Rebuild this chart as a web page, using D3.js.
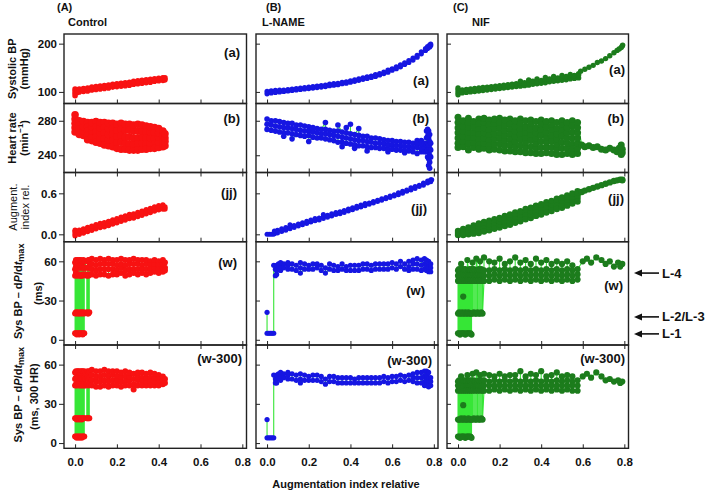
<!DOCTYPE html>
<html>
<head>
<meta charset="utf-8">
<script src="https://cdn.jsdelivr.net/npm/d3@7"></script>
<style>
  body { margin: 0; background: #fff; }
  svg { display: block; font-family: "Liberation Sans", Arial, sans-serif; }
</style>
</head>
<body>
<div id="chart"></div>
<script>
// Each entry: [augmentation index rel., value, value, ...] in recording order

// --- Control ---
const ctrlSbp = [
  [0, 92, 97, 102, 106], [0.01, 99, 104], [0.02, 100, 106], [0.04, 101, 107], [0.06, 102, 108],
  [0.08, 104, 110], [0.10, 105, 111], [0.12, 106, 112], [0.14, 107, 113], [0.16, 108, 114],
  [0.18, 110, 116], [0.20, 111, 117], [0.22, 112, 118], [0.24, 113, 119], [0.26, 114, 120],
  [0.28, 116, 122], [0.30, 117, 123], [0.32, 118, 124], [0.34, 119, 125], [0.36, 120, 126],
  [0.38, 122, 127], [0.40, 123, 128], [0.42, 124, 129], [0.43, 125, 129]
];
const ctrlHr = [
  [0, 287, 282, 277, 272, 267], [0.01, 268, 273, 279], [0.02, 280, 275, 270, 264],
  [0.04, 263, 268, 273, 279], [0.06, 278, 273, 268, 263, 258], [0.08, 257, 262, 268, 273, 278],
  [0.10, 279, 273, 267, 261, 255], [0.12, 254, 260, 266, 272, 278], [0.14, 278, 272, 266, 259, 252],
  [0.16, 251, 258, 264, 271, 277], [0.18, 277, 271, 264, 257, 250], [0.20, 248, 255, 262, 269, 276],
  [0.22, 277, 270, 263, 255, 247], [0.24, 247, 254, 261, 269, 276], [0.26, 276, 269, 261, 253, 246],
  [0.28, 246, 253, 260, 268, 275], [0.30, 276, 268, 260, 253, 246], [0.32, 247, 254, 261, 268, 275],
  [0.34, 274, 267, 260, 253, 247], [0.36, 248, 254, 260, 267, 273], [0.38, 272, 266, 259, 253, 248],
  [0.40, 249, 255, 261, 266, 271], [0.42, 268, 262, 256, 250], [0.43, 251, 256, 260, 265]
];
const ctrlAi = [
  [0, -0.02, 0.01, 0.04, 0.06], [0.02, 0.00, 0.03, 0.06], [0.04, 0.02, 0.05, 0.08],
  [0.06, 0.04, 0.07, 0.10], [0.08, 0.06, 0.09, 0.12], [0.10, 0.08, 0.11, 0.14],
  [0.12, 0.10, 0.13, 0.16], [0.14, 0.11, 0.14, 0.17], [0.16, 0.13, 0.16, 0.19],
  [0.18, 0.15, 0.18, 0.21], [0.20, 0.17, 0.20, 0.23], [0.22, 0.19, 0.22, 0.25],
  [0.24, 0.21, 0.24, 0.27], [0.26, 0.23, 0.26, 0.29], [0.28, 0.24, 0.27, 0.30],
  [0.30, 0.26, 0.29, 0.32], [0.32, 0.28, 0.31, 0.34], [0.34, 0.30, 0.33, 0.36],
  [0.36, 0.32, 0.35, 0.38], [0.38, 0.34, 0.37, 0.40], [0.40, 0.36, 0.39, 0.42],
  [0.42, 0.37, 0.40, 0.43], [0.43, 0.37, 0.40]
];
const ctrlW = [
  [0.000, 59, 54, 49, 20, 5], [0.004, 5, 21, 51, 56, 61], [0.008, 60, 55, 50, 20, 4],
  [0.012, 5, 21, 49, 56, 61], [0.016, 60, 55, 50, 20, 5], [0.020, 4, 20, 50, 56, 61],
  [0.024, 60, 55, 49, 21, 5], [0.028, 5, 20, 49, 56, 61], [0.032, 60, 55, 50, 21, 5],
  [0.036, 4, 20, 49, 56, 60], [0.040, 61, 55, 50, 21, 5], [0.044, 5, 20, 50, 55, 60],
  [0.050, 60, 55, 50], [0.056, 49, 21], [0.060, 20, 50, 55, 60], [0.064, 61, 55, 49, 20],
  [0.068, 21, 50, 56, 61],
  [0.08, 62, 58, 54, 50], [0.10, 49, 53, 57, 61], [0.12, 62, 58, 54, 50], [0.14, 50, 54, 58, 61],
  [0.16, 62, 58, 54, 49], [0.18, 50, 54, 58, 61], [0.20, 61, 57, 53, 50], [0.22, 51, 55, 58, 62],
  [0.24, 61, 57, 53, 49], [0.26, 50, 54, 58, 61], [0.28, 62, 58, 54, 51], [0.30, 50, 54, 58, 61],
  [0.32, 61, 57, 54, 51], [0.34, 50, 54, 58, 61], [0.36, 60, 57, 54, 51], [0.38, 52, 55, 58, 61],
  [0.40, 60, 57, 54, 51], [0.42, 52, 55, 58, 61], [0.43, 59, 55, 53]
];
const ctrlW300 = [
  [0.000, 54, 49, 44, 19, 5], [0.004, 5, 19, 45, 50, 55], [0.008, 54, 49, 44, 18, 4],
  [0.012, 5, 19, 45, 50, 55], [0.016, 55, 50, 45, 19, 5], [0.020, 4, 18, 44, 49, 54],
  [0.024, 55, 50, 45, 19, 5], [0.028, 5, 19, 44, 49, 54], [0.032, 55, 50, 45, 18, 4],
  [0.036, 5, 19, 44, 49, 55], [0.040, 54, 49, 45, 19, 5], [0.044, 5, 19, 44, 50, 55],
  [0.050, 54, 49, 44], [0.056, 45, 19], [0.060, 19, 45, 50, 55], [0.064, 54, 49, 44, 19],
  [0.068, 19, 45, 50, 55],
  [0.08, 56, 52, 48, 44], [0.10, 43, 47, 51, 55], [0.12, 55, 51, 47, 43], [0.14, 44, 48, 52, 56],
  [0.16, 55, 51, 47, 43], [0.18, 44, 48, 52, 55], [0.20, 55, 51, 47, 44], [0.22, 43, 47, 51, 54],
  [0.24, 55, 51, 47, 44], [0.26, 44, 48, 51, 54], [0.28, 53, 49, 45, 41], [0.30, 44, 48, 51, 54],
  [0.32, 54, 50, 47, 44], [0.34, 44, 47, 50, 53], [0.36, 54, 50, 47, 44], [0.38, 44, 47, 50, 53],
  [0.40, 52, 49, 46, 44], [0.42, 45, 48, 51], [0.43, 49, 46]
];

// --- L-NAME ---
const lnameSbp = [
  [0.00, 96, 101], [0.02, 98, 102], [0.04, 99, 103], [0.06, 100, 104], [0.08, 101, 104],
  [0.10, 102, 105], [0.12, 103, 106], [0.14, 104, 107], [0.16, 105, 108], [0.18, 106, 109],
  [0.20, 107, 110], [0.22, 108, 111], [0.24, 109, 112], [0.26, 110, 113], [0.28, 111, 114],
  [0.30, 113, 116], [0.32, 114, 117], [0.34, 115, 118], [0.36, 117, 120], [0.38, 118, 121],
  [0.40, 120, 123], [0.42, 122, 125], [0.44, 124, 127], [0.46, 126, 129], [0.48, 128, 131],
  [0.50, 130, 133], [0.52, 132, 136], [0.54, 135, 138], [0.56, 138, 141], [0.58, 141, 145],
  [0.60, 145, 148], [0.62, 148, 152], [0.64, 152, 156], [0.66, 157, 160], [0.68, 161, 165],
  [0.70, 166, 170], [0.72, 172, 176], [0.74, 179, 183], [0.76, 186, 190], [0.77, 190, 194],
  [0.78, 193, 197], [0.785, 196, 199]
];
const lnameHr = [
  [0.00, 282, 276, 270], [0.02, 269, 275, 280], [0.04, 280, 274, 268], [0.06, 267, 273, 279],
  [0.08, 278, 272, 266, 262], [0.10, 266, 272, 277], [0.12, 277, 271, 265, 259], [0.14, 264, 270, 275],
  [0.16, 275, 269, 263], [0.18, 262, 268, 274], [0.20, 273, 268, 263, 256], [0.22, 261, 267, 272],
  [0.24, 271, 266, 260], [0.26, 260, 265, 270], [0.28, 278, 270, 265, 259], [0.30, 258, 264, 269],
  [0.32, 268, 263, 257], [0.34, 255, 262, 268, 275], [0.36, 267, 261, 255, 250], [0.38, 254, 260, 266, 272],
  [0.40, 276, 265, 259, 253], [0.42, 248, 252, 258, 264], [0.44, 271, 263, 257, 251], [0.46, 251, 257, 262],
  [0.48, 262, 256, 250, 245], [0.50, 249, 255, 260], [0.52, 260, 254, 249], [0.54, 248, 254, 259],
  [0.56, 258, 253, 248], [0.58, 244, 247, 252, 257], [0.60, 257, 252, 247], [0.62, 246, 251, 256],
  [0.64, 256, 251, 246], [0.66, 243, 245, 250, 255], [0.68, 255, 250, 245], [0.70, 244, 249, 254],
  [0.72, 257, 253, 249, 242], [0.74, 244, 248, 253, 257], [0.755, 254, 248, 244],
  [0.765, 244, 252, 260, 268], [0.77, 270, 262, 254, 246, 238], [0.775, 228, 236, 244, 252, 260, 268],
  [0.78, 264, 256, 248, 240, 232, 225], [0.785, 238, 246, 254]
];
const lnameAi = [
  [0.00, 0.00], [0.01, 0.00], [0.02, 0.00], [0.03, 0.00], [0.035, 0.01, 0.05],
  [0.05, 0.02, 0.06], [0.07, 0.04, 0.08], [0.09, 0.06, 0.10], [0.11, 0.08, 0.11, 0.14],
  [0.13, 0.10, 0.13], [0.15, 0.12, 0.15], [0.17, 0.14, 0.17], [0.19, 0.16, 0.19],
  [0.21, 0.18, 0.21], [0.23, 0.20, 0.23], [0.25, 0.21, 0.24], [0.27, 0.23, 0.26, 0.29],
  [0.29, 0.25, 0.28], [0.31, 0.27, 0.30], [0.33, 0.29, 0.32], [0.35, 0.30, 0.33],
  [0.37, 0.32, 0.35], [0.39, 0.34, 0.37], [0.41, 0.36, 0.39], [0.43, 0.38, 0.41],
  [0.45, 0.40, 0.43], [0.47, 0.42, 0.45], [0.49, 0.44, 0.46], [0.51, 0.46, 0.48],
  [0.53, 0.48, 0.50], [0.55, 0.50, 0.52], [0.57, 0.52, 0.54], [0.59, 0.54, 0.56],
  [0.61, 0.56, 0.58], [0.63, 0.58, 0.61], [0.65, 0.60, 0.63], [0.67, 0.63, 0.65],
  [0.69, 0.65, 0.68], [0.71, 0.67, 0.70], [0.73, 0.70, 0.72], [0.75, 0.72, 0.75],
  [0.77, 0.75, 0.78], [0.785, 0.77, 0.80], [0.79, 0.80]
];
const lnameW = [
  [0.000, 21, 5], [0.008, 5], [0.016, 5], [0.024, 5], [0.032, 5, 57], [0.040, 54, 49],
  [0.046, 50, 53, 57], [0.055, 58, 55], [0.065, 53, 56, 59], [0.08, 58, 55], [0.10, 54, 57, 59],
  [0.12, 58, 54], [0.14, 53, 57], [0.16, 59, 55, 51], [0.18, 54, 58], [0.20, 57, 54],
  [0.22, 54, 58], [0.24, 58, 55], [0.26, 53, 57], [0.28, 55, 51], [0.30, 54, 58],
  [0.32, 57, 53], [0.34, 53, 56], [0.36, 58, 54], [0.38, 53, 56], [0.40, 57, 53],
  [0.42, 53, 57], [0.44, 57, 53], [0.46, 54, 58], [0.48, 58, 54], [0.50, 53, 57],
  [0.52, 58, 54], [0.54, 54, 58], [0.56, 58, 54], [0.58, 54, 58], [0.60, 59, 55],
  [0.62, 54, 58], [0.64, 60, 56], [0.66, 54, 58], [0.68, 60, 56, 53], [0.70, 54, 58, 61],
  [0.72, 62, 58, 54], [0.74, 53, 57, 61], [0.755, 62, 58, 54], [0.765, 53, 57, 61],
  [0.775, 60, 56, 52], [0.785, 52, 55, 58]
];
const lnameW300 = [
  [0.000, 18, 4], [0.008, 4], [0.016, 4], [0.024, 4], [0.032, 4, 52], [0.040, 49, 46],
  [0.046, 46, 49, 52], [0.055, 53, 50], [0.065, 48, 51, 54], [0.08, 53, 50], [0.10, 49, 52, 54],
  [0.12, 53, 49], [0.14, 48, 52], [0.16, 53, 49, 46], [0.18, 48, 52], [0.20, 51, 48],
  [0.22, 48, 52], [0.24, 52, 48], [0.26, 47, 51], [0.28, 49, 45], [0.30, 47, 51],
  [0.32, 51, 47], [0.34, 46, 50], [0.36, 50, 46], [0.38, 46, 50], [0.40, 50, 46],
  [0.42, 46, 49], [0.44, 50, 46], [0.46, 46, 50], [0.48, 50, 46], [0.50, 46, 50],
  [0.52, 50, 46], [0.54, 46, 50], [0.56, 51, 47], [0.58, 46, 50], [0.60, 51, 47],
  [0.62, 47, 51], [0.64, 52, 48], [0.66, 47, 51], [0.68, 52, 48], [0.70, 47, 50, 53],
  [0.72, 54, 50, 46], [0.74, 46, 50, 54], [0.755, 55, 51, 47, 44], [0.765, 44, 48, 52, 55],
  [0.775, 54, 50, 46, 43], [0.785, 44, 47, 50]
];

// --- NIF ---
const nifSbp = [
  [0, 94, 99, 104, 108], [0.02, 98, 104], [0.04, 99, 105], [0.06, 100, 106], [0.08, 101, 107],
  [0.10, 102, 108], [0.12, 103, 109], [0.14, 104, 110], [0.16, 105, 111], [0.18, 106, 112],
  [0.20, 107, 113], [0.22, 108, 114], [0.24, 109, 115], [0.26, 110, 116], [0.28, 111, 117],
  [0.30, 112, 118, 122], [0.32, 113, 119], [0.34, 114, 121, 125], [0.36, 116, 122],
  [0.38, 117, 123, 127], [0.40, 118, 124], [0.42, 119, 126, 130], [0.44, 121, 127],
  [0.46, 122, 128, 132], [0.48, 123, 129], [0.50, 124, 130, 134], [0.52, 125, 132],
  [0.54, 127, 133, 136], [0.56, 128, 134], [0.58, 129, 135, 138],
  [0.59, 143], [0.61, 147], [0.63, 151], [0.65, 155], [0.67, 161], [0.69, 164], [0.71, 169],
  [0.73, 175], [0.75, 181], [0.765, 186], [0.775, 189], [0.785, 192], [0.79, 195], [0.792, 197]
];
const nifHr = [
  [0.000, 284, 278, 272, 266, 260, 254, 249], [0.025, 250, 256, 262, 268, 274, 280],
  [0.050, 283, 277, 271, 265, 259, 253, 246], [0.075, 249, 255, 261, 267, 273, 279],
  [0.100, 282, 276, 270, 264, 258, 252, 247], [0.125, 248, 254, 260, 266, 272, 278, 283],
  [0.150, 281, 275, 269, 263, 257, 251, 246], [0.175, 247, 253, 259, 265, 271, 277, 282],
  [0.200, 283, 277, 271, 265, 259, 253, 246], [0.225, 245, 251, 257, 263, 269, 275, 281],
  [0.250, 282, 276, 270, 264, 258, 252, 245], [0.275, 244, 250, 256, 262, 268, 274, 280],
  [0.300, 282, 276, 270, 264, 258, 251, 244], [0.325, 243, 249, 255, 261, 267, 273, 280],
  [0.350, 281, 275, 269, 263, 257, 250, 243], [0.375, 242, 248, 254, 260, 266, 272, 279],
  [0.400, 281, 275, 269, 263, 256, 249, 242], [0.425, 243, 249, 255, 261, 267, 273, 279],
  [0.450, 280, 274, 268, 262, 256, 249, 242], [0.475, 241, 247, 253, 259, 265, 271, 278],
  [0.500, 280, 274, 268, 262, 255, 248, 241], [0.525, 242, 248, 254, 260, 266, 272, 278],
  [0.550, 280, 274, 267, 260, 253, 247, 241], [0.575, 242, 248, 254, 260, 266, 272, 278],
  [0.595, 252], [0.61, 250], [0.63, 251], [0.65, 249], [0.67, 250], [0.69, 247], [0.71, 246],
  [0.73, 248], [0.75, 246], [0.765, 244], [0.775, 248], [0.785, 244, 252, 241], [0.79, 247, 243]
];
const nifAi = [
  [0.000, -0.01, 0.02, 0.05], [0.025, 0.08, 0.05, 0.02, -0.01], [0.050, 0.00, 0.03, 0.07, 0.10],
  [0.075, 0.13, 0.09, 0.05, 0.01], [0.100, 0.02, 0.06, 0.11, 0.16], [0.125, 0.18, 0.13, 0.09, 0.04],
  [0.150, 0.06, 0.11, 0.15, 0.20], [0.175, 0.22, 0.17, 0.13, 0.08], [0.200, 0.10, 0.15, 0.19, 0.24],
  [0.225, 0.27, 0.22, 0.17, 0.12], [0.250, 0.14, 0.19, 0.24, 0.29], [0.275, 0.32, 0.27, 0.22, 0.17],
  [0.300, 0.19, 0.24, 0.29, 0.34], [0.325, 0.37, 0.32, 0.27, 0.22], [0.350, 0.24, 0.29, 0.34, 0.39],
  [0.375, 0.42, 0.37, 0.32, 0.27], [0.400, 0.29, 0.34, 0.39, 0.44], [0.425, 0.47, 0.42, 0.37, 0.32],
  [0.450, 0.34, 0.39, 0.44, 0.49], [0.475, 0.52, 0.47, 0.42, 0.37], [0.500, 0.39, 0.44, 0.49, 0.54],
  [0.525, 0.57, 0.52, 0.47, 0.42], [0.550, 0.45, 0.50, 0.55, 0.60], [0.575, 0.63, 0.58, 0.53, 0.48],
  [0.595, 0.62], [0.61, 0.64], [0.63, 0.66], [0.65, 0.68], [0.67, 0.70], [0.69, 0.72],
  [0.71, 0.74], [0.73, 0.76], [0.75, 0.78], [0.765, 0.79], [0.78, 0.80], [0.79, 0.80, 0.79]
];
const nifW = [
  [0.000, 53, 49, 45, 20, 5], [0.005, 5, 21, 46, 50, 54], [0.010, 53, 49, 45, 20, 4],
  [0.015, 5, 20, 46, 50, 58], [0.020, 53, 49, 45, 21, 5], [0.025, 5, 20, 33, 46, 50, 54],
  [0.030, 53, 49, 45, 20, 5], [0.035, 4, 21, 46, 50, 54], [0.040, 53, 49, 45, 20, 5],
  [0.045, 5, 20, 46, 50, 61], [0.050, 53, 49, 45, 21, 5], [0.055, 5, 20, 46, 50, 54],
  [0.060, 53, 49, 45, 20, 5], [0.065, 4, 20, 46, 50, 54],
  [0.070, 59, 53, 49, 45, 20], [0.076, 21, 46, 50, 54], [0.082, 53, 49, 45, 20],
  [0.088, 20, 46, 50, 62], [0.094, 53, 49, 45, 21], [0.100, 20, 46, 50, 54],
  [0.106, 60, 53, 49, 45, 20], [0.112, 21, 46, 50, 54], [0.118, 53, 49, 45, 20],
  [0.125, 45, 49, 53, 63], [0.150, 60, 53, 49, 45], [0.175, 46, 50, 54, 59], [0.200, 62, 53, 49, 45],
  [0.225, 46, 50, 54, 58], [0.250, 60, 53, 49, 45], [0.275, 46, 50, 54, 63], [0.300, 59, 53, 49, 45],
  [0.325, 46, 50, 54, 61], [0.350, 58, 53, 49, 45], [0.375, 46, 50, 54, 62], [0.400, 59, 53, 49, 45],
  [0.425, 46, 50, 54, 61], [0.450, 58, 53, 49, 45], [0.475, 46, 50, 54, 60], [0.500, 58, 53, 49, 45],
  [0.525, 46, 50, 54, 60], [0.550, 57, 53, 49, 45], [0.575, 46, 50, 54],
  [0.60, 60], [0.62, 62], [0.64, 59], [0.665, 63], [0.69, 61], [0.71, 58], [0.73, 60],
  [0.75, 56], [0.77, 59], [0.78, 56], [0.79, 58]
];
const nifW300 = [
  [0.000, 47, 44, 40, 18, 5], [0.005, 5, 18, 41, 44, 48], [0.010, 47, 44, 40, 18, 4],
  [0.015, 5, 19, 41, 44, 51], [0.020, 47, 44, 40, 18, 5], [0.025, 5, 18, 29, 41, 44, 48],
  [0.030, 47, 44, 40, 19, 5], [0.035, 4, 18, 41, 44, 48], [0.040, 47, 44, 40, 18, 5],
  [0.045, 5, 18, 41, 44, 52], [0.050, 47, 44, 40, 19, 5], [0.055, 5, 18, 41, 44, 48],
  [0.060, 47, 44, 40, 18, 5], [0.065, 4, 18, 41, 44, 48],
  [0.070, 53, 47, 44, 40, 18], [0.076, 19, 41, 44, 48], [0.082, 47, 44, 40, 18],
  [0.088, 18, 41, 44, 54], [0.094, 47, 44, 40, 19], [0.100, 18, 41, 44, 48],
  [0.106, 52, 47, 44, 40, 18], [0.112, 19, 41, 44, 48], [0.118, 47, 44, 40, 18],
  [0.125, 40, 44, 48, 53], [0.150, 52, 47, 44, 40], [0.175, 41, 44, 48, 51], [0.200, 53, 47, 44, 40],
  [0.225, 41, 44, 48, 51], [0.250, 52, 47, 44, 40], [0.275, 41, 44, 48, 52], [0.300, 55, 47, 44, 40],
  [0.325, 41, 44, 48, 51], [0.350, 53, 47, 44, 40], [0.375, 41, 44, 48, 52], [0.400, 55, 47, 44, 40],
  [0.425, 41, 44, 48, 51], [0.450, 52, 47, 44, 40], [0.475, 41, 44, 48, 54], [0.500, 51, 47, 44, 40],
  [0.525, 41, 44, 48, 52], [0.550, 51, 47, 44, 40], [0.575, 40, 44, 48],
  [0.60, 51], [0.62, 53], [0.64, 50], [0.665, 54], [0.69, 51], [0.71, 48], [0.73, 49],
  [0.75, 47], [0.77, 48], [0.78, 46], [0.79, 47]
];

const groupNames = ["Control", "L-NAME", "NIF"];
const groupLetters = ["(A)", "(B)", "(C)"];
const panelTags = ["(a)", "(b)", "(jj)", "(w)", "(w-300)"];
const xTicks = [0, 0.2, 0.4, 0.6, 0.8];
const rowTicks = [[100, 200], [240, 280], [0, 0.6], [0, 30, 60], [0, 30, 60]];
const levelLabels = ["L-4", "L-2/L-3", "L-1"];
const levelValues = [51, 17.5, 4.5];

const series = [
  [ctrlSbp, ctrlHr, ctrlAi, ctrlW, ctrlW300],
  [lnameSbp, lnameHr, lnameAi, lnameW, lnameW300],
  [nifSbp, nifHr, nifAi, nifW, nifW300]
];

// layout
const W = 709, H = 496;
const cols = [[64, 246.5], [256, 438], [447, 628.5]];
const rows = [[34, 103.5], [103.5, 172.5], [172.5, 241.7], [241.7, 345], [345, 448.3]];
const yDomains = [[76, 220], [220, 300], [-0.108, 0.905], [-4, 75], [-4, 75]];
const xDomain = [-0.053, 0.82];
const colors = ["#f81212", "#1616e2", "#1c7c1c"];
const lineColor = "#36e636";
const radius = [[2.8, 3.8, 2.7, 3.0, 3.0], [2.6, 2.8, 2.5, 2.6, 2.6], [2.7, 3.5, 3.2, 3.1, 3.1]];
const tagPos = [
  [[240, 56.5], [240, 122.5], [237, 196.5], [237, 266.5], [242, 362.5]],
  [[429, 84.5], [429, 122.5], [427, 212.5], [425, 294.5], [432, 364.5]],
  [[625, 73.5], [624, 122.5], [624, 202.5], [623, 289.5], [625, 362.5]]
];

const svg = d3.select("#chart").append("svg").attr("width", W).attr("height", H);

function toPoints(colsData) {
  const pts = [];
  colsData.forEach(c => c.slice(1).forEach(v => pts.push([c[0], v])));
  return pts;
}

const fmtY = [d3.format("d"), d3.format("d"), d3.format(".1f"), d3.format("d"), d3.format("d")];
let row4Scale = null;

series.forEach((grp, ci) => {
  const [l, r] = cols[ci];
  const x = d3.scaleLinear().domain(xDomain).range([l, r]);

  grp.forEach((data, ri) => {
    const [t, b] = rows[ri];
    const y = d3.scaleLinear().domain(yDomains[ri]).range([b, t]);
    if (ri === 3 && ci === 2) row4Scale = y;
    const g = svg.append("g");
    const clipId = `clip-${ci}-${ri}`;
    svg.append("clipPath").attr("id", clipId)
      .append("rect").attr("x", l).attr("y", t).attr("width", r - l).attr("height", b - t);

    const pts = toPoints(data);
    const plot = g.append("g").attr("clip-path", `url(#${clipId})`);
    plot.append("path")
      .datum(pts)
      .attr("fill", "none")
      .attr("stroke", lineColor)
      .attr("stroke-width", 1.1)
      .attr("d", d3.line().x(d => x(d[0])).y(d => y(d[1])));
    plot.selectAll("circle").data(pts).enter().append("circle")
      .attr("cx", d => x(d[0]))
      .attr("cy", d => y(d[1]))
      .attr("r", radius[ci][ri])
      .attr("fill", colors[ci]);

    // x ticks inside the bottom
    const xb = g.append("g").attr("transform", `translate(0,${b})`)
      .call(d3.axisBottom(x).tickValues(xTicks).tickSize(-4).tickPadding(10)
        .tickFormat(ri === 4 ? d3.format(".1f") : ""));
    xb.select(".domain").remove();
    xb.selectAll("text").attr("font-size", 11.5).attr("font-weight", "bold").attr("fill", "#111")
      .attr("font-family", "Liberation Sans, Arial, sans-serif");
    if (ri === 2 || ri === 4) {
      const xt = g.append("g").attr("transform", `translate(0,${t})`)
        .call(d3.axisTop(x).tickValues(xTicks).tickSize(-4).tickFormat(""));
      xt.select(".domain").remove();
    }

    // y ticks
    const ya = g.append("g").attr("transform", `translate(${l},0)`)
      .call(d3.axisLeft(y).tickValues(rowTicks[ri]).tickSize(ci === 0 ? 5 : -4).tickPadding(2)
        .tickFormat(ci === 0 ? fmtY[ri] : ""));
    ya.select(".domain").remove();
    ya.selectAll("text").attr("font-size", 11.5).attr("font-weight", "bold").attr("fill", "#111")
      .attr("font-family", "Liberation Sans, Arial, sans-serif");
    g.selectAll(".tick line").attr("stroke", "#222").attr("stroke-width", 1);

    g.append("rect").attr("x", l).attr("y", t).attr("width", r - l).attr("height", b - t)
      .attr("fill", "none").attr("stroke", "#222").attr("stroke-width", 1.4);

    g.append("text")
      .attr("x", tagPos[ci][ri][0]).attr("y", tagPos[ci][ri][1])
      .attr("text-anchor", "end").attr("font-size", 13).attr("font-weight", "bold").attr("fill", "#111")
      .text(panelTags[ri]);
  });

  // group headers
  const letterX = [57, 266, 453][ci];
  const nameX = [68, 262, 472][ci];
  svg.append("text").attr("x", letterX).attr("y", 11).attr("font-size", 11).attr("font-weight", "bold")
    .attr("fill", "#111").text(groupLetters[ci]);
  svg.append("text").attr("x", nameX).attr("y", 26).attr("font-size", 11).attr("font-weight", "bold")
    .attr("fill", "#111").text(groupNames[ci]);
});

// y axis labels (rotated)
function vlabel(xpos, cy, build, size) {
  const t = svg.append("text")
    .attr("transform", `translate(${xpos},${cy}) rotate(-90)`)
    .attr("text-anchor", "middle").attr("dominant-baseline", "central")
    .attr("font-size", size || 11).attr("font-weight", "bold").attr("fill", "#111");
  build(t);
  return t;
}
const rc = rows.map(r => (r[0] + r[1]) / 2);
vlabel(11.5, rc[0], t => t.text("Systolic BP"));
vlabel(24, rc[0], t => t.text("(mmHg)"));
vlabel(11.5, rc[1], t => t.text("Heart rate"));
vlabel(24, rc[1], t => {
  t.append("tspan").text("(min");
  t.append("tspan").attr("font-size", 8).attr("dy", -4).text("\u22121");
  t.append("tspan").attr("dy", 4).text(")");
});
vlabel(13, rc[2], t => t.text("Augment.")).attr("font-weight", "normal");
vlabel(25, rc[2], t => t.text("index rel.")).attr("font-weight", "normal");
function sysLabel(t) {
  t.append("tspan").text("Sys BP \u2013 d");
  t.append("tspan").attr("font-style", "italic").text("P");
  t.append("tspan").text("/d");
  t.append("tspan").attr("font-style", "italic").text("t");
  t.append("tspan").attr("font-size", 9).attr("dy", 3).text("max");
}
vlabel(18, rc[3] - 2, sysLabel);
vlabel(38, rc[3], t => t.text("(ms)"));
vlabel(18, rc[4] - 2, sysLabel);
vlabel(34, rc[4], t => t.text("(ms, 300 HR)"));

// x axis title
svg.append("text").attr("x", 346).attr("y", 488).attr("text-anchor", "middle")
  .attr("font-size", 11).attr("font-weight", "bold").attr("fill", "#111")
  .text("Augmentation index relative");

// level arrows on the right
levelLabels.forEach((lab, i) => {
  const yy = row4Scale(levelValues[i]);
  svg.append("line").attr("x1", 659).attr("x2", 640).attr("y1", yy).attr("y2", yy)
    .attr("stroke", "#111").attr("stroke-width", 1.6);
  svg.append("path").attr("d", `M634,${yy} L642,${yy - 3.5} L642,${yy + 3.5} Z`).attr("fill", "#111");
  svg.append("text").attr("x", 662).attr("y", yy).attr("dominant-baseline", "central")
    .attr("font-size", 13).attr("font-weight", "bold").attr("fill", "#111").text(lab);
});
</script>
</body>
</html>
